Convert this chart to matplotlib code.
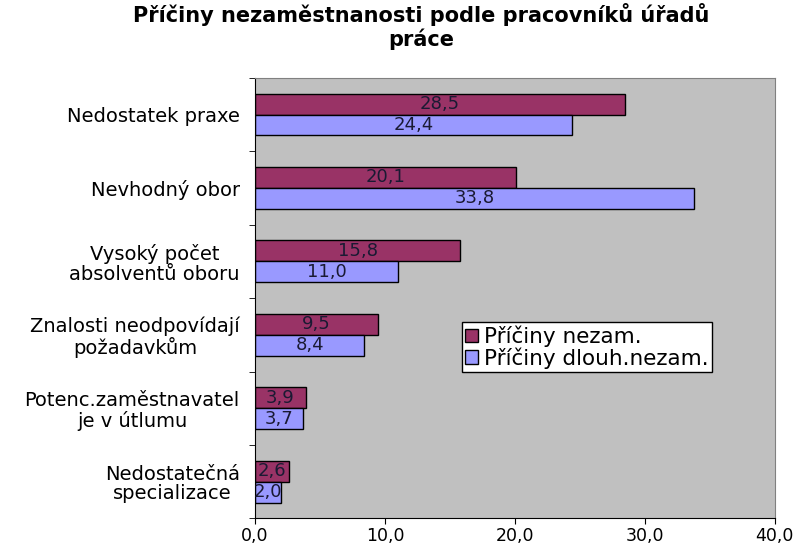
import numpy as np
import matplotlib.pyplot as plt

# data
categories = [
    "Nedostatek praxe",
    "Nevhodný obor",
    "Vysoký počet\nabsolventů oboru",
    "Znalosti neodpovídají\npožadavkům",
    "Potenc.zaměstnavatel\nje v útlumu",
    "Nedostatečná\nspecializace",
]
priciny_nezam = [28.5, 20.1, 15.8, 9.5, 3.9, 2.6]
priciny_dlouh = [24.4, 33.8, 11.0, 8.4, 3.7, 2.0]
series_names = ["Příčiny nezam.", "Příčiny dlouh.nezam."]
x_ticks = [0, 10, 20, 30, 40]

COL_A = "#993366"
COL_B = "#9999FF"
BG = "#C0C0C0"


def fmt(v):
    return f"{v:.1f}".replace(".", ",")


fig = plt.figure(figsize=(7.97, 5.48), dpi=100)
ax = fig.add_axes([0.32, 0.054, 0.652, 0.804])
ax.set_facecolor(BG)

y = np.arange(len(categories))
h = 0.285
bars_a = ax.barh(y - h / 2, priciny_nezam, height=h, color=COL_A,
                 edgecolor="black", linewidth=1.0, label=series_names[0])
bars_b = ax.barh(y + h / 2, priciny_dlouh, height=h, color=COL_B,
                 edgecolor="black", linewidth=1.0, label=series_names[1])

for bars, vals in ((bars_a, priciny_nezam), (bars_b, priciny_dlouh)):
    for b, v in zip(bars, vals):
        ax.text(v / 2, b.get_y() + b.get_height() / 2, fmt(v),
                ha="center", va="center", fontsize=13, color="#1a1a33")

ax.set_xlim(0, 40)
ax.set_ylim(len(categories) - 0.5, -0.5)
ax.set_xticks(x_ticks)
ax.set_xticklabels([fmt(t) for t in x_ticks], fontsize=12.5)
ax.set_yticks(y)
ax.set_yticklabels(categories, fontsize=14, ha="right", multialignment="center",
                   linespacing=1.05)
ax.tick_params(axis="y", length=0, pad=11)
ax.set_yticks(np.arange(-0.5, len(categories)), minor=True)
ax.tick_params(axis="y", which="minor", length=4)
ax.tick_params(axis="x", length=4, pad=2)

for side in ("top", "right"):
    ax.spines[side].set_color("#808080")
for side in ("left", "bottom"):
    ax.spines[side].set_color("black")

leg = ax.legend(loc="upper left", bbox_to_anchor=(0.398, 0.445), fontsize=15.5,
                frameon=True, fancybox=False, edgecolor="black", framealpha=1.0,
                handlelength=0.6, handleheight=0.6, handletextpad=0.3,
                borderpad=0.15, labelspacing=0.0, borderaxespad=0)
leg.get_frame().set_facecolor("white")
leg.get_frame().set_linewidth(1.0)

fig.text(0.528, 0.995, "Příčiny nezaměstnanosti podle pracovníků úřadů\npráce",
         ha="center", va="top", fontsize=15, fontweight="bold", linespacing=1.15)

fig.savefig("out.png", dpi=100)
